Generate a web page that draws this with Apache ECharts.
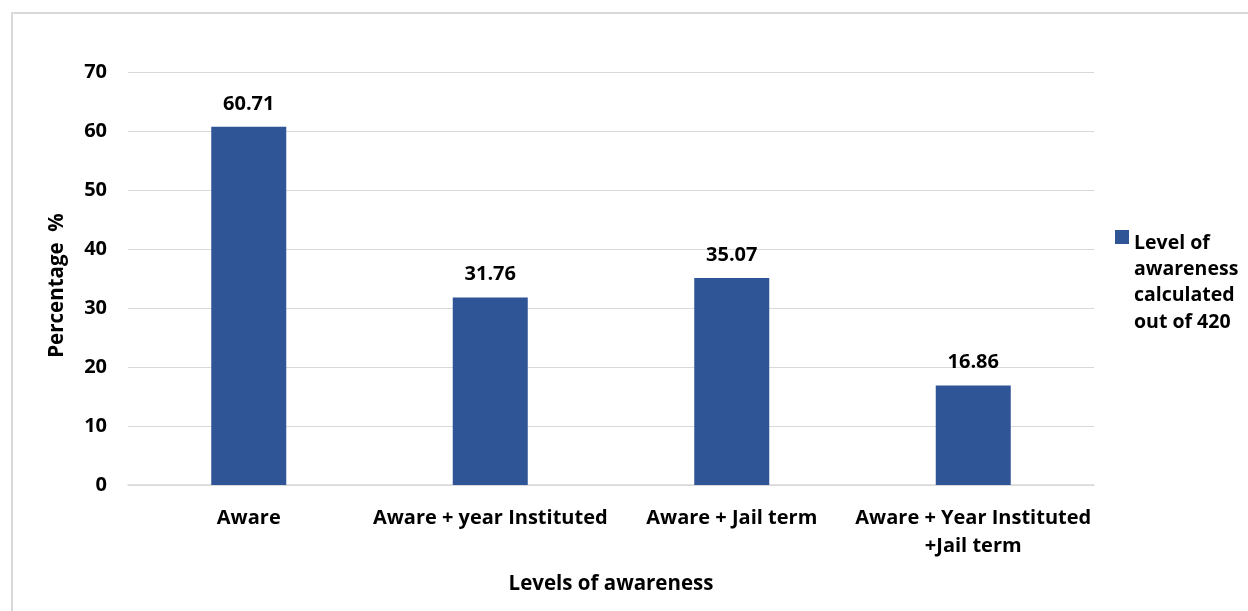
<!DOCTYPE html>
<html>
<head>
<meta charset="utf-8">
<script src="https://cdn.jsdelivr.net/npm/echarts@6/dist/echarts.min.js"></script>
<style>
  html, body { margin: 0; padding: 0; background: #fff; }
  #frame { position: absolute; left: 11px; top: 12px; right: -4px; bottom: -4px; border: 2px solid #d9d9d9; }
  #chart { position: absolute; left: 0; top: 0; width: 1248px; height: 611px; }
</style>
</head>
<body>
<div id="frame"></div>
<div id="chart"></div>
<script>
// Awareness levels among respondents (percent of 420)
const categories = ['Aware', 'Aware + year Instituted', 'Aware + Jail term', 'Aware + Year Instituted\n+Jail term'];
const awareness = [60.71, 31.76, 35.07, 16.86];
const yTicks = { min: 0, max: 70, interval: 10 };
const seriesName = 'Level of awareness calculated out of 420';
const legendLines = ['Level of', 'awareness', 'calculated', 'out of 420'];

const font = '"Open Sans", sans-serif';
const labelSize = 20;
const chart = echarts.init(document.getElementById('chart'), null, { renderer: 'canvas' });

// Legend swatch: square at the top of a tall, otherwise empty box so it sits beside the first text line
const swatch = 'path://M0,0H14V14H0Z M0,104.9H0.01V105H0Z';

chart.setOption({
  animation: false,
  textStyle: { fontFamily: font },
  grid: { left: 128, right: 154, top: 72, bottom: 126, containLabel: false },
  legend: {
    orient: 'vertical',
    left: 1115,
    top: 230,
    padding: 0,
    itemWidth: 14,
    itemHeight: 105,
    icon: swatch,
    itemGap: 0,
    formatter: () => legendLines.join('\n'),
    textStyle: {
      fontFamily: font, fontWeight: 'bold', fontSize: 19.5, color: '#000',
      lineHeight: 26.3
    },
    data: [seriesName]
  },
  xAxis: {
    type: 'category',
    data: categories,
    name: 'Levels of awareness',
    nameLocation: 'middle',
    nameGap: 89,
    nameTextStyle: { fontFamily: font, fontWeight: 'bold', fontSize: 20.5, color: '#000' },
    axisLine: { lineStyle: { color: '#d9d9d9', width: 1.5 } },
    axisTick: { show: false },
    axisLabel: {
      interval: 0, margin: 19, fontFamily: font, fontWeight: 'bold', fontSize: labelSize,
      color: '#000', lineHeight: 28
    }
  },
  yAxis: {
    type: 'value',
    min: yTicks.min, max: yTicks.max, interval: yTicks.interval,
    name: 'Percentage  %',
    nameLocation: 'middle',
    nameGap: 60,
    nameRotate: 90,
    nameTextStyle: { fontFamily: font, fontWeight: 'bold', fontSize: 20.5, color: '#000', padding: [0, 14, 0, 0] },
    axisLine: { show: false },
    axisTick: { show: false },
    axisLabel: { margin: 21, fontFamily: font, fontWeight: 'bold', fontSize: labelSize, color: '#000' },
    splitLine: { lineStyle: { color: '#d9d9d9', width: 1 } }
  },
  series: [{
    name: seriesName,
    type: 'bar',
    data: awareness,
    barWidth: 75,
    itemStyle: { color: '#2f5597' },
    label: {
      show: true, position: 'top', distance: 13,
      fontFamily: font, fontWeight: 'bold', fontSize: labelSize, color: '#000',
      formatter: p => p.value.toFixed(2)
    }
  }]
});
</script>
</body>
</html>
